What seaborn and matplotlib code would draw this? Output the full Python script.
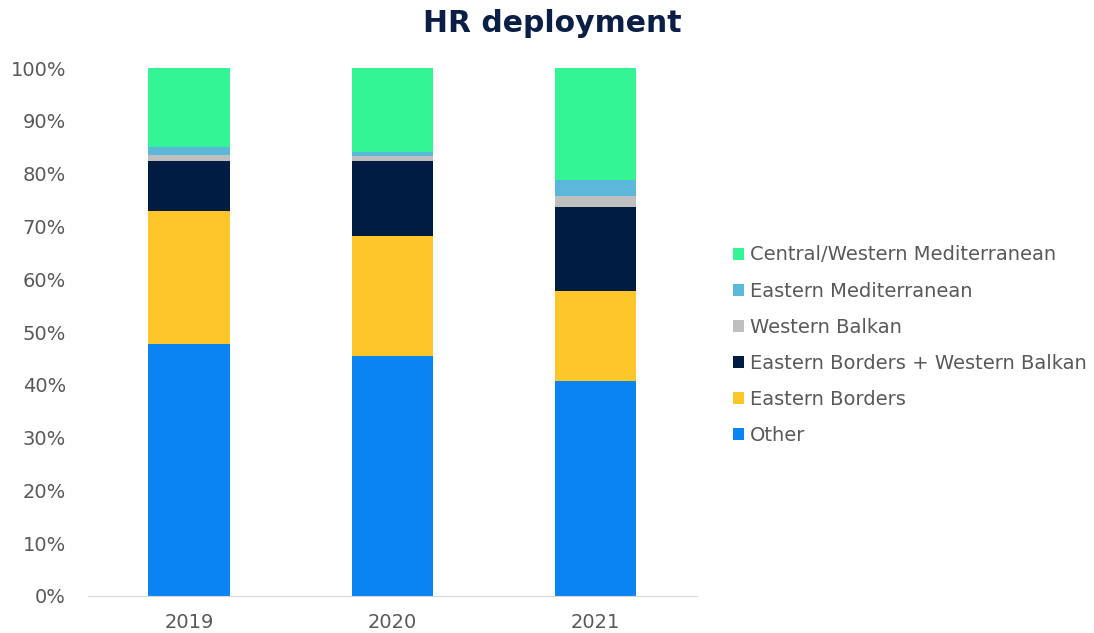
import pandas as pd
import numpy as np
import matplotlib.pyplot as plt
import seaborn as sns

# data (shares in %)
years = ["2019", "2020", "2021"]
other = [47.7, 45.5, 40.7]
eastern_borders = [25.2, 22.7, 17.1]
eb_wb = [9.5, 14.1, 15.9]
western_balkan = [1.2, 1.0, 2.0]
eastern_med = [1.4, 0.85, 3.0]
central_west_med = [15.0, 15.85, 21.3]

series = ["Other", "Eastern Borders", "Eastern Borders + Western Balkan",
          "Western Balkan", "Eastern Mediterranean", "Central/Western Mediterranean"]
colors = ["#0A84F2", "#FFC629", "#001C42", "#BFBFBF", "#5BB8D9", "#33F595"]

values = np.array([other, eastern_borders, eb_wb, western_balkan,
                   eastern_med, central_west_med])
cum = np.cumsum(values, axis=0) / values.sum(axis=0)

sns.set_style("white")
plt.rcParams['font.family'] = ['Verdana', 'DejaVu Sans']

fig = plt.figure(figsize=(10.94, 6.33), dpi=100)
ax = fig.add_axes([0.080, 0.0585, 0.557, 0.834])

# draw cumulative totals from the top down, each one covering the one before
for i in range(len(series) - 1, -1, -1):
    df = pd.DataFrame({"year": years, "share": cum[i]})
    sns.barplot(data=df, x="year", y="share", color=colors[i], width=0.4,
                saturation=1, label=series[i], ax=ax, linewidth=0)

ax.set_xlim(-0.5, 2.5)
ax.set_ylim(0, 1)
ticks = np.arange(0, 1.01, 0.1)
ax.set_yticks(ticks)
ax.set_yticklabels([f"{int(round(t * 100))}%" for t in ticks])
ax.set_xlabel("")
ax.set_ylabel("")
ax.tick_params(axis="both", length=0, labelsize=14, labelcolor="#595959")
ax.tick_params(axis="x", pad=12.5)
ax.tick_params(axis="y", pad=15.5)
for s in ["top", "right", "left"]:
    ax.spines[s].set_visible(False)
ax.spines["bottom"].set_color("#D9D9D9")

fig.suptitle("HR deployment", fontsize=21.5, fontweight="bold", color="#0B1E45",
             x=0.505, y=0.985)

ax.legend(loc="center left", bbox_to_anchor=(1.03, 0.475), frameon=False,
          fontsize=14, labelcolor="#595959", handlelength=0.57, handleheight=0.57,
          handletextpad=0.3, labelspacing=0.88)

fig.savefig("out.png", dpi=100)
